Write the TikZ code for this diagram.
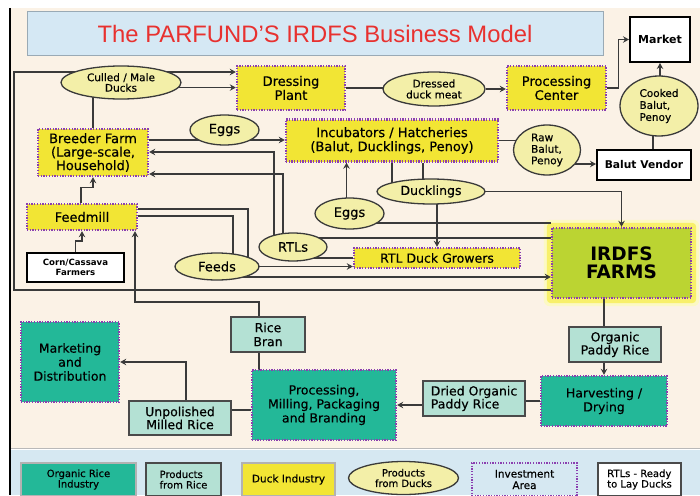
\documentclass[tikz,border=0pt]{standalone}
\usepackage{fontspec}
\setmainfont{DejaVu Sans}[FakeBold=0.35]
\newfontfamily\titlefont{Liberation Sans}
\newfontfamily\heavyfont{DejaVu Sans Bold}
\usetikzlibrary{shapes.geometric,arrows.meta,calc}

\definecolor{cream}{HTML}{FBF2E6}
\definecolor{legendblue}{HTML}{D6E8F2}
\definecolor{titleblue}{HTML}{D5E8F4}
\definecolor{titleline}{HTML}{9AAAB5}
\definecolor{titlered}{HTML}{E8312F}
\definecolor{duckyellow}{HTML}{F2E534}
\definecolor{invpurple}{HTML}{8B3FB0}
\definecolor{ellfill}{HTML}{F3EFA8}
\definecolor{limegreen}{HTML}{BBD432}
\definecolor{glowy}{HTML}{F8F06A}
\definecolor{riceteal}{HTML}{23B898}
\definecolor{lightteal}{HTML}{B4E1D4}
\definecolor{boxgrey}{HTML}{4A4A4A}
\definecolor{linegrey}{HTML}{3A3A3A}

\pgfdeclarelayer{panel}
\pgfdeclarelayer{wires}
\pgfsetlayers{panel,wires,main}

\tikzset{
  fs/.style 2 args={font=\fontsize{#1pt}{#2pt}\selectfont},
  sz/.style 2 args={minimum width=#1pt, minimum height=#2pt},
  basebox/.style={rectangle, inner sep=0pt, align=center, text=black},
  investdots/.style={draw=invpurple, line width=2.4pt, dash pattern=on 1.3pt off 1.4pt},
  duckbox/.style={basebox, fill=duckyellow, investdots},
  ricebox/.style={basebox, fill=riceteal, investdots},
  riceprod/.style={basebox, fill=lightteal, draw=boxgrey, line width=1.5pt},
  duckprod/.style={ellipse, inner sep=0pt, align=center, fill=ellfill, draw=linegrey, line width=1.3pt},
  plainbox/.style={basebox, fill=white, draw=black, line width=2pt},
  wire/.style={draw=linegrey, line width=1.3pt},
  flow/.style={wire, -{Stealth[length=6pt,width=6.5pt,inset=2pt]}},
}

\begin{document}
\begin{tikzpicture}[x=1pt,y=-1pt]
\useasboundingbox (0,0) rectangle (700,495);

% ---------- title ----------
\node[basebox, fill=titleblue, draw=titleline, line width=1pt, sz={576}{43},
      font=\titlefont\fontsize{23.8pt}{25pt}\selectfont, text=titlered]
      (title) at (315,33.5) {The PARFUND’S IRDFS Business Model};

% ---------- duck industry ----------
\node[plainbox, sz={60}{45}, font=\heavyfont\fontsize{11}{12}\selectfont] (market) at (660,39.5) {Market};
\node[duckbox, sz={108}{44}, fs={13}{14}] (dress) at (291,88) {Dressing\\Plant};
\node[duckprod, sz={120}{33}, fs={10.5}{10.5}] (culled) at (121,82.5) {Culled / Male\\Ducks};
\node[duckprod, sz={102}{34}, fs={10.5}{11}] (meat) at (434,89) {Dressed\\duck meat};
\node[duckbox, sz={99}{44}, fs={13}{14}] (proc) at (556.5,88) {Processing\\Center};
\node[duckprod, sz={78}{60}, fs={10.5}{12}, align=left] (cooked) at (659,106) {Cooked\\Balut,\\Penoy};
\node[plainbox, sz={94}{30}, font=\heavyfont\fontsize{10.7}{12}\selectfont] (vendor) at (644,165) {Balut Vendor};
\node[duckprod, sz={67}{50}, fs={10.5}{11.5}, align=left] (raw) at (547,150) {Raw\\Balut,\\Penoy};
\node[duckbox, sz={212}{42}, fs={13}{14}] (incub) at (392,140.5) {Incubators / Hatcheries\\(Balut, Ducklings, Penoy)};
\node[duckprod, sz={69}{30}, fs={13}{14}] (eggsT) at (224.5,130) {Eggs};
\node[duckbox, sz={110}{47}, fs={13}{13.5}] (breeder) at (93,152.5) {Breeder Farm\\(Large-scale,\\Household)};
\node[duckbox, sz={110}{26}, fs={13}{14}] (feedmill) at (82,217) {Feedmill};
\node[plainbox, sz={97}{29}, font=\heavyfont\fontsize{8.6}{10}\selectfont] (corn) at (75.5,267.5) {Corn/Cassava\\Farmers};
\node[duckprod, sz={84}{27}, fs={13}{14}] (feeds) at (217,266.5) {Feeds};
\node[duckprod, sz={68}{28}, fs={13}{14}] (rtls) at (293,247) {RTLs};
\node[duckprod, sz={69}{31}, fs={13}{14}] (eggsL) at (349.5,213.5) {Eggs};
\node[duckprod, sz={108}{25}, fs={12.5}{14}] (ducklings) at (431,191.5) {Ducklings};
\node[duckbox, sz={166}{20}, fs={12.5}{14}] (growers) at (437,258) {RTL Duck Growers};
\node[basebox, fill=limegreen, investdots, sz={139}{70},
      font=\heavyfont\fontsize{18.5pt}{18.5pt}\selectfont] (irdfs) at (621.5,263) {IRDFS\\FARMS};

% ---------- organic rice industry ----------
\node[riceprod, sz={74}{35}, fs={12.5}{14}] (ricebran) at (268,334.5) {Rice\\Bran};
\node[ricebox, sz={98}{80}, fs={12.5}{14}] (mkt) at (70,362) {Marketing\\and\\Distribution};
\node[riceprod, sz={102}{34}, fs={12.5}{13}] (unpol) at (180,418) {Unpolished\\Milled Rice};
\node[ricebox, sz={144}{70}, fs={12.5}{14}] (mill) at (324,405) {Processing,\\Milling, Packaging\\and Branding};
\node[riceprod, sz={102}{35}, fs={12.5}{13}, align=left] (dried) at (474,398.5) {Dried Organic\\Paddy Rice};
\node[ricebox, sz={126}{50}, fs={12.5}{14}] (harvest) at (604,401) {Harvesting /\\Drying};
\node[riceprod, sz={92}{35}, fs={12.5}{13}] (paddy) at (615,344.5) {Organic\\Paddy Rice};

% ---------- legend ----------
\node[basebox, fill=riceteal, draw=gray!60, line width=1.2pt, sz={115}{33}, fs={10}{10.5}] (lgA) at (78.5,479.5) {Organic Rice\\Industry};
\node[riceprod, sz={75}{33}, fs={10}{10.5}, align=left] (lgB) at (183.5,479.5) {Products\\from Rice};
\node[basebox, fill=duckyellow, draw=gray!60, line width=1.2pt, sz={93}{33}, fs={10.5}{10.5}] (lgC) at (288.5,479.5) {Duck Industry};
\node[duckprod, sz={110}{33}, fs={10}{10.5}] (lgD) at (403.5,478) {Products\\from Ducks};
\node[basebox, investdots, sz={105}{33}, fs={10.5}{11.5}] (lgE) at (524.5,479.5) {Investment\\Area};
\node[basebox, fill=white, draw=boxgrey, line width=1.5pt, sz={83}{33}, fs={10}{10.5}, align=left] (lgF) at (639.5,479.5) {RTLs - Ready\\to Lay Ducks};

% ---------- panels and glow ----------
\begin{pgfonlayer}{panel}
  \fill[white] (0,0) rectangle (700,495);
  \fill[cream] (10,8) rectangle (700,448);
  \fill[legendblue] (10,449.5) rectangle (700,495);
  \draw[gray!55, line width=1.2pt] (10,448.7) -- (700,448.7);
  \draw[black, line width=1.6pt] (10,8) -- (10,495);
  \fill[glowy!40, rounded corners=6pt] ($(irdfs.south west)+(-7,7)$) rectangle ($(irdfs.north east)+(7,-7)$);
  \fill[glowy, rounded corners=4pt] ($(irdfs.south west)+(-4,4)$) rectangle ($(irdfs.north east)+(4,-4)$);
\end{pgfonlayer}

% ---------- connectors ----------
\begin{pgfonlayer}{wires}
  % culled ducks from the farms back to the dressing plant
  \coordinate (loopL) at (14,290);
  \draw[flow] (irdfs.west |- loopL) -- (loopL) -- (loopL |- 0,72) -- (dress.west |- 0,72);
  \draw[flow] (culled.-5.5) -- (dress.west |- culled.-5.5);
  \draw[wire] (breeder.north) -- (breeder.north |- culled.center);
  % dressing and processing
  \draw[wire] (dress.east) -- (dress.east -| meat.center);
  \draw[flow] (meat.east) -- (meat.east -| proc.west);
  \draw[flow] (proc.east) -- ([xshift=11pt]proc.east) |- (market.west);
  \draw[flow] (market.south |- cooked.center) -- (market.south);
  \draw[wire] ([xshift=9pt]vendor.north) -- ([xshift=9pt]vendor.north |- cooked.center);
  % hatchery outputs
  \draw[flow] (breeder.east |- 0,140) -- (incub.west |- 0,140);
  \draw[wire] (incub.east) -- (incub.east -| raw.center);
  \draw[flow] ([yshift=-14pt]raw.center) -- ([yshift=-14pt]raw.center -| vendor.west);
  \draw[wire] (incub.south) -- (incub.south |- ducklings.center);
  \draw[wire] ([xshift=31pt]incub.south) -- ([xshift=31pt]incub.south |- ducklings.center);
  \draw[flow] (ducklings.center -| growers.north) -- (growers.north);
  \draw[flow] (ducklings.center) -| (irdfs.north);
  % eggs from the farms
  \draw[wire] ([yshift=-9.5pt]eggsL.center) -- ([yshift=-9.5pt]eggsL.center -| irdfs.west);
  \draw[flow] ([xshift=-3pt]eggsL.center) -- ([xshift=-3pt]eggsL.center |- incub.south);
  % ready-to-lay ducks
  \draw[wire] ([yshift=9pt]rtls.center) -- ([yshift=9pt]rtls.center -| irdfs.west);
  \draw[flow] ([xshift=-19pt]rtls.center) |- ([yshift=0.5pt]breeder.east);
  \draw[flow] ([xshift=-10pt]rtls.center) |- ([yshift=-21.5pt]breeder.east);
  \draw[wire] ([yshift=-11pt]rtls.center) -- ([yshift=-11pt]rtls.center -| growers.west);
  % feeds
  \draw[wire] ([yshift=8pt]feedmill.east) -| ([xshift=31pt]feeds.center);
  \draw[wire] ([yshift=1pt]feedmill.east) -| ([xshift=16pt]feeds.center);
  \draw[flow] (feeds.center) -- (feeds.center -| growers.west);
  \draw[flow] ([yshift=-10.5pt]feeds.center) -- ([yshift=-10.5pt]feeds.center -| irdfs.west);
  \draw[flow] (corn.north) -- ([yshift=11pt]corn.north) -| (feedmill.south);
  \draw[flow] ([xshift=-1pt]feedmill.north) -- ([xshift=-1pt,yshift=15pt]feedmill.north) -| (breeder.south);
  % rice chain
  \coordinate (branbend) at (135,302);
  \draw[flow] ([xshift=-9pt]ricebran.north) |- (branbend) -- (branbend |- feedmill.south);
  \draw[wire] ([xshift=-9pt]ricebran.south) -- ([xshift=-9pt]ricebran.south |- mill.center);
  \draw[wire] (harvest.north |- irdfs.south) -- (harvest.north |- paddy.center);
  \draw[flow] (harvest.north |- paddy.south) -- (harvest.north);
  \draw[wire] (harvest.west) -- (harvest.west -| dried.center);
  \draw[flow] (dried.center |- mill.east) -- (mill.east);
  \draw[wire] ([yshift=-5pt]mill.west) -- ([yshift=-5pt]mill.west -| unpol.center);
  \draw[flow] ([xshift=6pt]unpol.north) |- (mkt.east);
\end{pgfonlayer}
\end{tikzpicture}
\end{document}
